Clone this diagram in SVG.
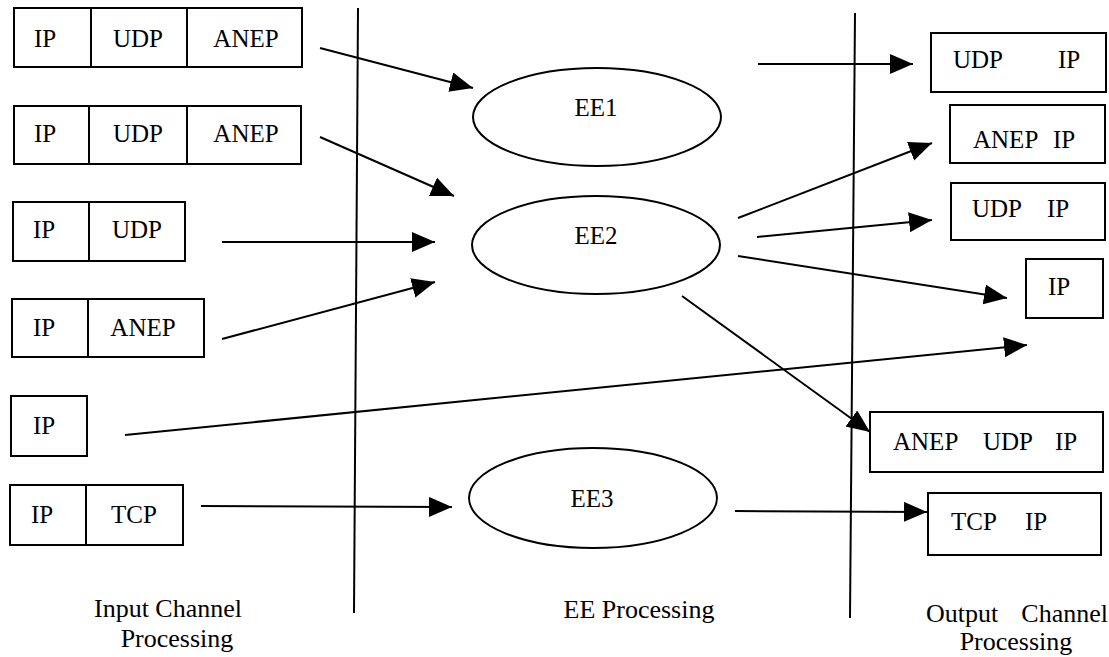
<svg xmlns="http://www.w3.org/2000/svg" width="1109" height="657" viewBox="0 0 1109 657">
<style>
.bx{fill:#fff;stroke:#000;stroke-width:2}
.dv{stroke:#000;stroke-width:2}
.el{fill:#fff;stroke:#000;stroke-width:2}
text{font-family:'Liberation Serif','DejaVu Serif',serif;fill:#000}
.t{font-size:25px}
.m{text-anchor:middle}
.lb{font-size:26px}
.cn{stroke:#000;stroke-width:2;fill:none;marker-end:url(#ah)}
.sep{stroke:#000;stroke-width:2}
</style>
<defs>
<marker id="ah" markerUnits="userSpaceOnUse" markerWidth="26" markerHeight="22" refX="23" refY="10" orient="auto">
<path d="M0,0 L23,10 L0,20 z" fill="#000"/>
</marker>
</defs>
<rect width="1109" height="657" fill="#fff"/>
<g id="separators">
<line class="sep" x1="358" y1="8" x2="354" y2="613"/>
<line class="sep" x1="855" y1="13" x2="850" y2="618"/>
</g>
<g id="in1">
<rect class="bx" x="14" y="8" width="288" height="59"/>
<line class="dv" x1="91" y1="8" x2="91" y2="67"/>
<line class="dv" x1="187" y1="8" x2="187" y2="67"/>
<text class="t m" x="45" y="47" font-family="Liberation Serif, serif">IP</text>
<text class="t m" x="138" y="47">UDP</text>
<text class="t m" x="246" y="47">ANEP</text>
</g>
<g id="in2">
<rect class="bx" x="14" y="106" width="287" height="58"/>
<line class="dv" x1="89" y1="106" x2="89" y2="164"/>
<line class="dv" x1="187" y1="106" x2="187" y2="164"/>
<text class="t m" x="45" y="142">IP</text>
<text class="t m" x="138" y="142">UDP</text>
<text class="t m" x="246" y="142">ANEP</text>
</g>
<g id="in3">
<rect class="bx" x="13" y="202" width="172" height="59"/>
<line class="dv" x1="89" y1="202" x2="89" y2="261"/>
<text class="t m" x="44" y="238">IP</text>
<text class="t m" x="137" y="238">UDP</text>
</g>
<g id="in4">
<rect class="bx" x="12" y="299" width="192" height="58"/>
<line class="dv" x1="88" y1="299" x2="88" y2="357"/>
<text class="t m" x="44" y="336">IP</text>
<text class="t m" x="143" y="336">ANEP</text>
</g>
<g id="in5">
<rect class="bx" x="11" y="396" width="76" height="60"/>
<text class="t m" x="44" y="434">IP</text>
</g>
<g id="in6">
<rect class="bx" x="10" y="485" width="173" height="60"/>
<line class="dv" x1="86" y1="485" x2="86" y2="545"/>
<text class="t m" x="42" y="523">IP</text>
<text class="t m" x="134" y="523">TCP</text>
</g>
<g id="ee1">
<ellipse class="el" cx="597" cy="117" rx="124" ry="49"/>
<text class="t m" x="596" y="116">EE1</text>
</g>
<g id="ee2">
<ellipse class="el" cx="596" cy="245" rx="124" ry="49"/>
<text class="t m" x="596" y="244">EE2</text>
</g>
<g id="ee3">
<ellipse class="el" cx="593" cy="498" rx="124" ry="50"/>
<text class="t m" x="592" y="507">EE3</text>
</g>
<g id="out1">
<rect class="bx" x="931" y="33" width="175" height="59"/>
<text class="t"><tspan x="953" y="68">UDP</tspan><tspan x="1058" y="68">IP</tspan></text>
</g>
<g id="out2">
<rect class="bx" x="950" y="105" width="155" height="58"/>
<text class="t"><tspan x="973" y="148">ANEP</tspan><tspan x="1053" y="148">IP</tspan></text>
</g>
<g id="out3">
<rect class="bx" x="951" y="183" width="154" height="57"/>
<text class="t"><tspan x="972" y="217">UDP</tspan><tspan x="1047" y="217">IP</tspan></text>
</g>
<g id="out4">
<rect class="bx" x="1026" y="259" width="77" height="59"/>
<text class="t" x="1048" y="295">IP</text>
</g>
<g id="out5">
<rect class="bx" x="870" y="412" width="233" height="60"/>
<text class="t"><tspan x="893" y="450">ANEP</tspan><tspan x="983" y="450">UDP</tspan><tspan x="1055" y="450">IP</tspan></text>
</g>
<g id="out6">
<rect class="bx" x="928" y="493" width="173" height="62"/>
<text class="t"><tspan x="951" y="530">TCP</tspan><tspan x="1025" y="530">IP</tspan></text>
</g>
<g id="connectors">
<line class="cn" x1="320" y1="48" x2="473" y2="88"/>
<line class="cn" x1="320" y1="137" x2="454" y2="196"/>
<line class="cn" x1="222" y1="242" x2="435" y2="242"/>
<line class="cn" x1="222" y1="339" x2="435" y2="282"/>
<line class="cn" x1="125" y1="435" x2="1027" y2="345"/>
<line class="cn" x1="201" y1="506" x2="452" y2="507"/>
<line class="cn" x1="758" y1="64" x2="913" y2="64"/>
<line class="cn" x1="738" y1="218" x2="932" y2="143"/>
<line class="cn" x1="757" y1="237" x2="932" y2="220"/>
<line class="cn" x1="738" y1="256" x2="1007" y2="298"/>
<line class="cn" x1="682" y1="296" x2="870" y2="432"/>
<line class="cn" x1="735" y1="511" x2="927" y2="512"/>
</g>
<g id="labels">
<text class="lb m" x="168" y="617">Input Channel</text>
<text class="lb m" x="177" y="647">Processing</text>
<text class="lb m" x="639" y="618">EE Processing</text>
<text class="lb"><tspan x="926" y="622">Output</tspan><tspan x="1108" y="622" text-anchor="end">Channel</tspan></text>
<text class="lb m" x="1016" y="650">Processing</text>
</g>
</svg>
